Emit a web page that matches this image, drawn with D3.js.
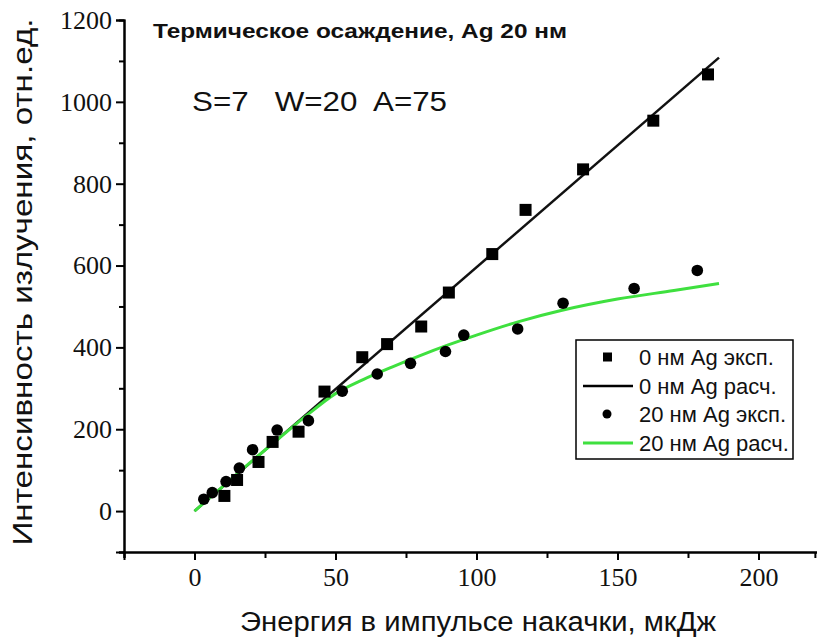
<!DOCTYPE html>
<html>
<head>
<meta charset="utf-8">
<script src="https://cdn.jsdelivr.net/npm/d3@7"></script>
<style>
  body { margin: 0; background: #fff; }
  text { fill: #111; }
</style>
</head>
<body>
<div id="chart"></div>
<script>
var width = 817;
var height = 643;

// experimental points, 0 nm Ag (squares)
var sqX = [10.6, 15.1, 22.7, 27.7, 36.9, 46.1, 59.5, 68.3, 80.4, 90.2, 105.6, 117.4, 137.8, 162.7, 182.1];
var sqY = [37, 76, 120, 169, 194, 292, 376, 408, 451, 534, 628, 736, 835, 954, 1067];

// experimental points, 20 nm Ag (circles)
var ciX = [3.3, 6.3, 11.2, 15.9, 20.6, 29.3, 40.4, 52.4, 64.8, 76.6, 89, 95.5, 114.6, 130.7, 155.9, 178.3];
var ciY = [29, 45, 72, 105, 150, 198, 221, 293, 335, 361, 390, 430, 445, 508, 544, 588];

// calculated curves
var fitBlackX = [0, 186];
var fitBlackY = [0, 1108];
var fitGreenX = [0, 10, 20, 30, 40, 50, 60, 70, 80, 90, 100, 115, 130, 150, 170, 186];
var fitGreenY = [0, 60, 120, 178, 235, 287, 322, 352, 380, 406, 430, 463, 490, 518, 539, 556];

var xMajor = [0, 50, 100, 150, 200];
var xMinor = [-25, 25, 75, 125, 175, 220];
var yMajor = [0, 200, 400, 600, 800, 1000, 1200];
var yMinor = [-100, 100, 300, 500, 700, 900, 1100];

var legendLabels = ["0 нм Ag эксп.", "0 нм Ag расч.", "20 нм Ag эксп.", "20 нм Ag расч."];

var green = "#3fe03f";
var serif = "'Liberation Serif', 'DejaVu Serif', 'Noto Serif', 'Times New Roman', serif";
var sans = "'Liberation Sans', Arial, sans-serif";

var svg = d3.select("#chart").append("svg")
    .attr("width", width)
    .attr("height", height);

var x = d3.scaleLinear().domain([-25, 221]).range([124, 817.7]);
var y = d3.scaleLinear().domain([-100, 1200]).range([552, 20]);

// axes
var yAxisG = svg.append("g").attr("transform", "translate(124,0)");
yAxisG.call(d3.axisLeft(y).tickValues(yMinor).tickSize(5).tickFormat(""));
var yMajorG = svg.append("g").attr("transform", "translate(124,0)");
yMajorG.call(d3.axisLeft(y).tickValues(yMajor).tickSize(8).tickPadding(4).tickFormat(d3.format("d")));

var xAxisG = svg.append("g").attr("transform", "translate(0,552)");
xAxisG.call(d3.axisBottom(x).tickValues(xMinor).tickSize(6).tickFormat(""));
var xMajorG = svg.append("g").attr("transform", "translate(0,552)");
xMajorG.call(d3.axisBottom(x).tickValues(xMajor).tickSize(8).tickPadding(8).tickFormat(d3.format("d")));

[yAxisG, yMajorG, xAxisG, xMajorG].forEach(function(g) {
    g.attr("font-family", serif).attr("font-size", 26);
    g.selectAll("path").attr("stroke-width", 2);
    g.selectAll("line").attr("stroke-width", 2);
    g.selectAll("text").attr("fill", "#111");
});

// curves
var line = d3.line()
    .x(function(d) { return x(d[0]); })
    .y(function(d) { return y(d[1]); })
    .curve(d3.curveMonotoneX);

svg.append("path")
    .datum(fitBlackX.map(function(v, i) { return [v, fitBlackY[i]]; }))
    .attr("d", line)
    .attr("fill", "none")
    .attr("stroke", "#111")
    .attr("stroke-width", 2.5);

svg.append("path")
    .datum(fitGreenX.map(function(v, i) { return [v, fitGreenY[i]]; }))
    .attr("d", line)
    .attr("fill", "none")
    .attr("stroke", green)
    .attr("stroke-width", 3);

// points
svg.append("g").selectAll("rect")
    .data(sqX.map(function(v, i) { return [v, sqY[i]]; }))
    .enter().append("rect")
    .attr("x", function(d) { return x(d[0]) - 6; })
    .attr("y", function(d) { return y(d[1]) - 6; })
    .attr("width", 12)
    .attr("height", 12)
    .attr("fill", "#000");

svg.append("g").selectAll("circle")
    .data(ciX.map(function(v, i) { return [v, ciY[i]]; }))
    .enter().append("circle")
    .attr("cx", function(d) { return x(d[0]); })
    .attr("cy", function(d) { return y(d[1]); })
    .attr("r", 5.8)
    .attr("fill", "#000");

// titles
svg.append("text")
    .attr("x", 153).attr("y", 38)
    .attr("textLength", 414).attr("lengthAdjust", "spacingAndGlyphs")
    .style("font-family", sans)
    .style("font-weight", "bold")
    .style("font-size", "20px")
    .text("Термическое осаждение, Ag 20 нм");

svg.append("text")
    .attr("x", 192).attr("y", 111)
    .attr("xml:space", "preserve")
    .attr("textLength", 255).attr("lengthAdjust", "spacingAndGlyphs")
    .style("font-family", sans)
    .style("font-size", "28px")
    .text("S=7   W=20  A=75");

svg.append("text")
    .attr("x", 478).attr("y", 631)
    .attr("text-anchor", "middle")
    .attr("textLength", 476).attr("lengthAdjust", "spacingAndGlyphs")
    .style("font-family", sans)
    .style("font-size", "27px")
    .text("Энергия в импульсе накачки, мкДж");

svg.append("text")
    .attr("transform", "translate(32,282) rotate(-90)")
    .attr("text-anchor", "middle")
    .attr("textLength", 527).attr("lengthAdjust", "spacingAndGlyphs")
    .style("font-family", sans)
    .style("font-size", "27px")
    .text("Интенсивность излучения, отн.ед.");

// legend
var lg = svg.append("g").attr("transform", "translate(576,340)");
lg.append("rect")
    .attr("width", 217).attr("height", 119)
    .attr("fill", "#fff")
    .attr("stroke", "#000")
    .attr("stroke-width", 1.5);

var rowY = [17, 46, 74, 103];
lg.append("rect").attr("x", 27).attr("y", rowY[0] - 4.5).attr("width", 9).attr("height", 9).attr("fill", "#000");
lg.append("line").attr("x1", 7).attr("x2", 57).attr("y1", rowY[1]).attr("y2", rowY[1])
    .attr("stroke", "#000").attr("stroke-width", 2.5);
lg.append("circle").attr("cx", 31).attr("cy", rowY[2]).attr("r", 4.5).attr("fill", "#000");
lg.append("line").attr("x1", 7).attr("x2", 57).attr("y1", rowY[3]).attr("y2", rowY[3])
    .attr("stroke", green).attr("stroke-width", 3);

lg.selectAll("text.lbl")
    .data(legendLabels)
    .enter().append("text")
    .attr("class", "lbl")
    .attr("x", 63)
    .attr("y", function(d, i) { return rowY[i] + 8; })
    .style("font-family", sans)
    .style("font-size", "22px")
    .text(function(d) { return d; });
</script>
</body>
</html>
